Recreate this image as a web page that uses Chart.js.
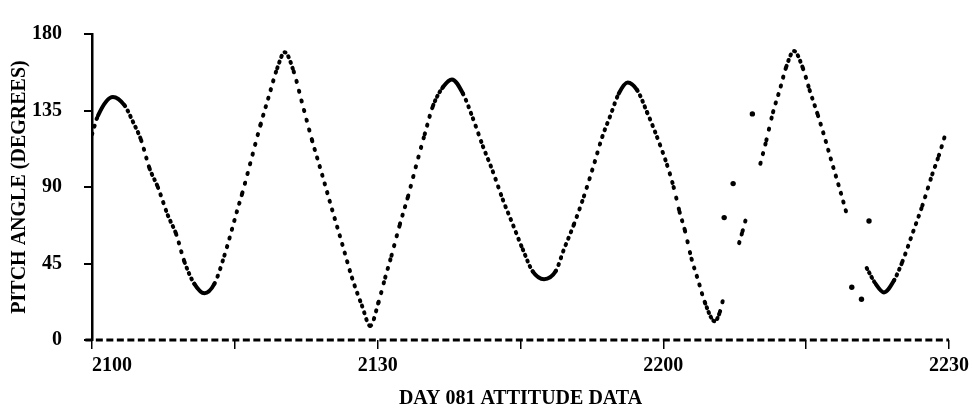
<!DOCTYPE html>
<html>
<head>
<meta charset="utf-8">
<script src="https://cdn.jsdelivr.net/npm/chart.js@4.4.1/dist/chart.umd.min.js"></script>
<style>
  html, body { margin: 0; padding: 0; background: #fff; }
</style>
</head>
<body>
<canvas id="pitch" width="974" height="409"></canvas>
<script>
// x = minutes after 2100, y = pitch angle (degrees)
const tickMinutes = [0, 15, 30, 45, 60, 75, 90];
const tickLabels = ['2100', '', '2130', '', '2200', '', '2230'];
const pitchTicks = [0, 45, 90, 135, 180];

const zeroLine = [[-0.7, 0], [90, 0]];

const trackMain = [
  [0, 121], [0.63, 132], [2.2, 143], [3.42, 138], [4.29, 128.5], [5.16, 117.5],
  [6.04, 101], [6.91, 90], [7.96, 73.4], [8.83, 62.4], [9.71, 46], [10.75, 33],
  [11.8, 27.5], [12.85, 33], [13.9, 49.6], [15.29, 77], [15.78, 86.3], [16.83, 108.4],
  [17.7, 126.7], [18.57, 143.3], [19.45, 159.8], [20.24, 169.3], [21.18, 158], [22.06, 139.6],
  [23.11, 117.5], [24.16, 97.4], [25.2, 77], [26.25, 57], [27.3, 36.7], [28.35, 20.2],
  [29.22, 8.3], [30.08, 22], [30.79, 36.7], [31.45, 49.6], [32.33, 68], [33.19, 84.5],
  [34.06, 103], [34.94, 121], [35.81, 137.7], [36.86, 148.8], [37.8, 153.3], [38.95, 145],
  [40, 130.4], [41.05, 114], [42.09, 99.2], [43.14, 82.6], [44.19, 68], [45.24, 53.3],
  [46.28, 40.4], [47.47, 35.8], [48.69, 40.4], [49.56, 53.3], [50.61, 68], [51.66, 84.5],
  [52.7, 103], [53.58, 119.4], [54.45, 132.2], [55.32, 145], [56.26, 151.5], [57.25, 147],
  [58.29, 134], [59.34, 119.4], [60.39, 103], [61.08, 90], [61.7, 75.5], [62.27, 64.3],
  [62.96, 47.8], [63.66, 35], [64.37, 22], [65.41, 11], [65.94, 16.5], [66.28, 24]
];
const trackShort = [[67.96, 57], [68.32, 64], [68.66, 71]];
const trackRise = [
  [70.19, 103.7], [70.82, 117.5], [71.52, 134], [72.22, 147], [72.91, 160.7], [73.72, 170],
  [74.66, 159.8], [75.36, 147], [76.23, 132.2], [76.93, 119.4], [77.77, 103], [78.46, 90],
  [79.34, 72.6]
];
const trackLast = [
  [81.36, 42.3], [82.3, 33], [83.17, 28], [84.22, 35], [85.1, 46], [86.15, 62.4],
  [87.2, 79], [88.24, 97.4], [88.93, 108.4], [89.71, 122.7]
];
const strayPoints = [[66.39, 72], [67.33, 92], [69.35, 133], [79.79, 31], [80.81, 24], [81.6, 70]];

const toXY = arr => arr.map(p => ({ x: p[0], y: p[1] }));

// samples are taken at a fixed rate, so dots crowd together where the angle changes slowly
const dotted = ctx => {
  const pts = ctx.chart.data.datasets[ctx.datasetIndex].data;
  const dt = pts[ctx.p1DataIndex].x - pts[ctx.p0DataIndex].x;
  const d = Math.hypot(ctx.p1.x - ctx.p0.x, ctx.p1.y - ctx.p0.y);
  const step = Math.round(d / dt * 0.27);
  return step < 5 ? [] : [1, step - 1];
};

const trackStyle = {
  showLine: true,
  borderColor: '#000',
  backgroundColor: '#000',
  borderWidth: 4,
  borderCapStyle: 'round',
  borderJoinStyle: 'round',
  cubicInterpolationMode: 'monotone',
  pointRadius: 0,
  segment: { borderDash: dotted }
};

const firstLabelLeft = {
  id: 'firstLabelLeft',
  beforeDraw(chart) {
    const items = chart.scales.x.getLabelItems();
    if (items.length) items[0].options.textAlign = 'left';
  }
};

const tickFont = { family: 'Liberation Serif', size: 20, weight: 'bold' };
const titleFont = { family: 'Liberation Serif', size: 20, weight: 'bold', lineHeight: 1 };

new Chart(document.getElementById('pitch'), {
  type: 'scatter',
  data: {
    datasets: [
      {
        data: toXY(zeroLine), showLine: true, pointRadius: 0, clip: false,
        borderColor: '#000', borderWidth: 3, borderDash: [7, 3.5]
      },
      { ...trackStyle, data: toXY(trackMain) },
      { ...trackStyle, data: toXY(trackShort) },
      { ...trackStyle, data: toXY(trackRise) },
      { ...trackStyle, data: toXY(trackLast) },
      { data: toXY(strayPoints), pointRadius: 2.7, pointBorderWidth: 0, backgroundColor: '#000' }
    ]
  },
  plugins: [firstLabelLeft],
  options: {
    responsive: false,
    animation: false,
    devicePixelRatio: 1,
    layout: { padding: { top: 13, right: 22, left: 0, bottom: 0 } },
    plugins: { legend: { display: false }, tooltip: { enabled: false } },
    scales: {
      x: {
        type: 'linear',
        min: 0,
        max: 90,
        afterFit: s => { s.height = 69; },
        afterBuildTicks: s => { s.ticks = tickMinutes.map(v => ({ value: v })); },
        border: { display: false },
        grid: { drawOnChartArea: false, drawTicks: true, tickLength: 9, color: '#000', lineWidth: 1.5 },
        ticks: {
          autoSkip: false,
          maxRotation: 0,
          padding: 5,
          color: '#000',
          font: tickFont,
          callback: (v, i) => tickLabels[i]
        },
        title: {
          display: true,
          text: 'DAY 081 ATTITUDE DATA',
          color: '#000',
          font: titleFont,
          padding: { top: 0, bottom: 0 }
        }
      },
      y: {
        min: 0,
        max: 180,
        afterFit: s => { s.width = 92; },
        afterBuildTicks: s => { s.ticks = pitchTicks.map(v => ({ value: v })); },
        border: { display: true, color: '#000', width: 2.5 },
        grid: { drawOnChartArea: false, drawTicks: true, tickLength: 8, color: '#000', lineWidth: 2 },
        ticks: { padding: 22, color: '#000', font: tickFont },
        title: {
          display: true,
          text: 'PITCH ANGLE (DEGREES)',
          color: '#000',
          font: titleFont,
          padding: { top: 10, bottom: 0 }
        }
      }
    }
  }
});
</script>
</body>
</html>
